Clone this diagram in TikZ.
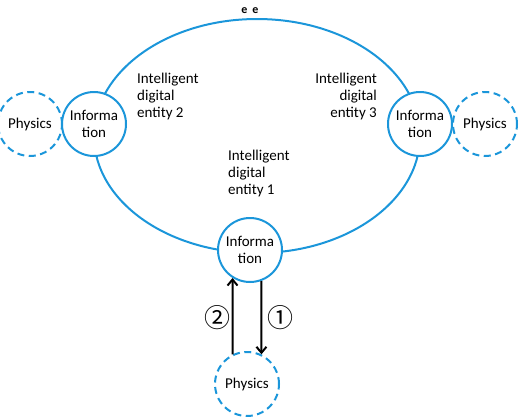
\documentclass[tikz,border=0pt]{standalone}
\usepackage{fontspec}
\setmainfont{Carlito}
\newfontfamily\circfont{Noto Sans CJK JP}
\usetikzlibrary{positioning}
\usetikzlibrary{arrows.meta}
\definecolor{skyblue}{RGB}{27,150,218}

\begin{document}
\begin{tikzpicture}[x=1pt, y=-1pt]
  \tikzstyle{info}=[circle, minimum size = 64pt, inner sep = 0pt, line width = 2pt, draw = skyblue, fill = white, align = center, font = \fontsize{15}{16.5}\selectfont]
  \tikzstyle{phys}=[circle, minimum size = 64pt, inner sep = 0pt, line width = 2pt, draw = skyblue, dashed, dash pattern = on 7pt off 4.5pt, font = \fontsize{15}{16.5}\selectfont]
  \tikzstyle{entity}=[align = left, font = \fontsize{15}{17}\selectfont, inner sep = 0pt]
  \tikzstyle{connect}=[-{Straight Barb[length=6pt, width=10pt]}, line width = 2pt]
  \tikzstyle{steplabel}=[font = \circfont\fontsize{26}{26}\selectfont, inner sep = 0pt]

  \useasboundingbox (0,0) rectangle (520,416);

  % ring
  \draw[line width = 2pt, draw = skyblue] (257,136) ellipse (163 and 117);
  \node[font = \bfseries\fontsize{12}{12}\selectfont] (ee) at (250,11) {e\hspace{5pt}e};

  \node[info] (i2) at (94,124) {Informa\\tion};
  \node[info] (i3) at (420,124) {Informa\\tion};
  \node[info] (i1) at (250,250) {Informa\\tion};

  \node[phys] (p2) [left = -2pt of i2] {Physics};
  \node[phys] (p3) [right = -1pt of i3] {Physics};
  \node[phys] (p1) at (247,384) {Physics};

  \node[entity, anchor = north west] (e2) at (137,73) {Intelligent\\digital\\entity 2};
  \node[entity, anchor = north east, align = right] (e3) at (377,73) {Intelligent\\digital\\entity 3};
  \node[entity, anchor = north west] (e1) at (228,150) {Intelligent\\digital\\entity 1};

  \path (p1.116) edge [connect] (i1.238)
        (i1.290) edge [connect] (p1.64);

  \node[steplabel] (s2) at (217,318) {②};
  \node[steplabel] (s1) at (280,318) {①};

\end{tikzpicture}
\end{document}
